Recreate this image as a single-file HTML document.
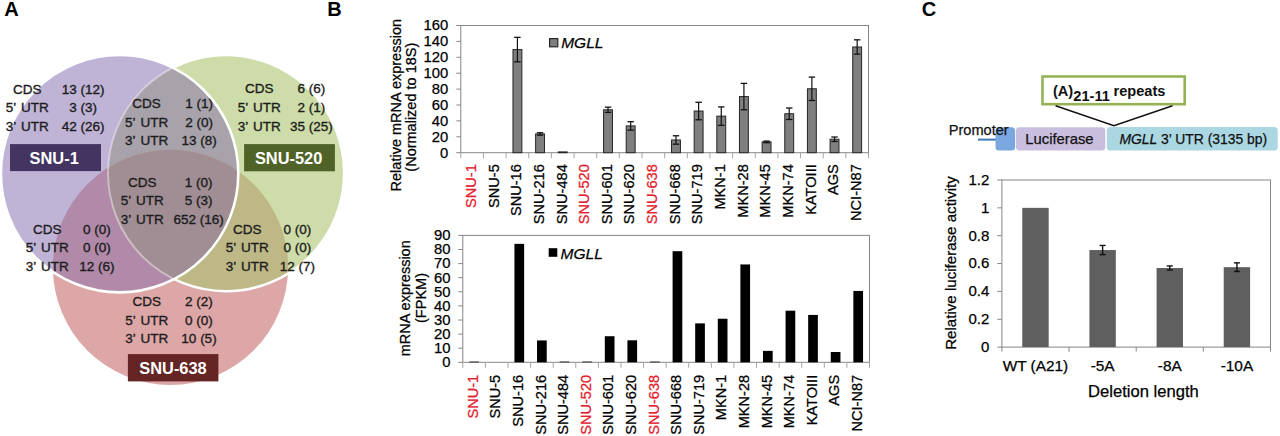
<!DOCTYPE html>
<html><head><meta charset="utf-8"><title>Figure</title>
<style>
html,body{margin:0;padding:0;background:#fff;}
body{width:1280px;height:436px;overflow:hidden;font-family:"Liberation Sans", sans-serif;}
svg{display:block;}
</style></head><body>
<svg width="1280" height="436" viewBox="0 0 1280 436">
<rect x="0" y="0" width="1280" height="436" fill="#fff"/>
<defs>
<clipPath id="cP"><circle cx="119.6" cy="173.7" r="118.7" /></clipPath>
<clipPath id="cG"><circle cx="226.1" cy="173.1" r="118.1" /></clipPath>
<clipPath id="cR"><circle cx="170.5" cy="267.3" r="117.6" /></clipPath>
</defs>
<circle cx="170.5" cy="267.3" r="117.6" fill="#dea7a7"/>
<circle cx="226.1" cy="173.1" r="118.1" fill="#cddca8"/>
<circle cx="119.6" cy="173.7" r="118.7" fill="#bfb3d6"/>
<g clip-path="url(#cP)"><circle cx="226.1" cy="173.1" r="118.1" fill="#a8a2aa"/></g>
<g clip-path="url(#cP)"><circle cx="170.5" cy="267.3" r="117.6" fill="#b08aa8"/></g>
<g clip-path="url(#cG)"><circle cx="170.5" cy="267.3" r="117.6" fill="#beb887"/></g>
<g clip-path="url(#cP)"><g clip-path="url(#cG)"><circle cx="170.5" cy="267.3" r="117.6" fill="#a08e94"/></g></g>
<g clip-path="url(#cP)"><circle cx="226.1" cy="173.1" r="118.1" fill="none" stroke="#ffffff" stroke-width="2" stroke-opacity="0.4"/></g>
<mask id="mNotP"><rect x="0" y="0" width="400" height="436" fill="white"/><circle cx="119.6" cy="173.7" r="118.7" fill="black"/></mask>
<g mask="url(#mNotP)"><circle cx="226.1" cy="173.1" r="118.1" fill="none" stroke="#ffffff" stroke-width="2.6"/></g>
<circle cx="119.6" cy="173.7" r="118.7" fill="none" stroke="#ffffff" stroke-width="2.6"/>
<g font-family='"Liberation Sans", sans-serif' font-size="13.5" fill="#1c1c1c" stroke="#1c1c1c" stroke-width="0.35">
<text x="27.3" y="93.6" text-anchor="middle">CDS</text>
<text x="83.1" y="93.6" text-anchor="middle">13 (12)</text>
<text x="27.3" y="112.3" text-anchor="middle" word-spacing="1.6">5’ UTR</text>
<text x="83.1" y="112.3" text-anchor="middle">3 (3)</text>
<text x="27.3" y="131.3" text-anchor="middle" word-spacing="1.6">3’ UTR</text>
<text x="83.1" y="131.3" text-anchor="middle">42 (26)</text>
<text x="146.6" y="108.2" text-anchor="middle">CDS</text>
<text x="199.1" y="108.2" text-anchor="middle">1 (1)</text>
<text x="146.6" y="126.5" text-anchor="middle" word-spacing="1.6">5’ UTR</text>
<text x="199.1" y="126.5" text-anchor="middle">2 (0)</text>
<text x="146.6" y="145.2" text-anchor="middle" word-spacing="1.6">3’ UTR</text>
<text x="199.1" y="145.2" text-anchor="middle">13 (8)</text>
<text x="259.3" y="93.2" text-anchor="middle">CDS</text>
<text x="311.4" y="93.2" text-anchor="middle">6 (6)</text>
<text x="259.3" y="112.3" text-anchor="middle" word-spacing="1.6">5’ UTR</text>
<text x="311.4" y="112.3" text-anchor="middle">2 (1)</text>
<text x="259.3" y="130.9" text-anchor="middle" word-spacing="1.6">3’ UTR</text>
<text x="311.4" y="130.9" text-anchor="middle">35 (25)</text>
<text x="142.3" y="186.5" text-anchor="middle">CDS</text>
<text x="198.6" y="186.5" text-anchor="middle">1 (0)</text>
<text x="142.3" y="205.1" text-anchor="middle" word-spacing="1.6">5’ UTR</text>
<text x="198.6" y="205.1" text-anchor="middle">5 (3)</text>
<text x="142.3" y="223.6" text-anchor="middle" word-spacing="1.6">3’ UTR</text>
<text x="198.6" y="223.6" text-anchor="middle">652 (16)</text>
<text x="47.3" y="234.1" text-anchor="middle">CDS</text>
<text x="96.8" y="234.1" text-anchor="middle">0 (0)</text>
<text x="47.3" y="252.3" text-anchor="middle" word-spacing="1.6">5’ UTR</text>
<text x="96.8" y="252.3" text-anchor="middle">0 (0)</text>
<text x="47.3" y="271.3" text-anchor="middle" word-spacing="1.6">3’ UTR</text>
<text x="96.8" y="271.3" text-anchor="middle">12 (6)</text>
<text x="247.2" y="234.1" text-anchor="middle">CDS</text>
<text x="297.3" y="234.1" text-anchor="middle">0 (0)</text>
<text x="247.2" y="252.3" text-anchor="middle" word-spacing="1.6">5’ UTR</text>
<text x="297.3" y="252.3" text-anchor="middle">0 (0)</text>
<text x="247.2" y="271.3" text-anchor="middle" word-spacing="1.6">3’ UTR</text>
<text x="297.3" y="271.3" text-anchor="middle">12 (7)</text>
<text x="146.8" y="305.6" text-anchor="middle">CDS</text>
<text x="199.0" y="305.6" text-anchor="middle">2 (2)</text>
<text x="146.8" y="324.5" text-anchor="middle" word-spacing="1.6">5’ UTR</text>
<text x="199.0" y="324.5" text-anchor="middle">0 (0)</text>
<text x="146.8" y="343.1" text-anchor="middle" word-spacing="1.6">3’ UTR</text>
<text x="199.0" y="343.1" text-anchor="middle">10 (5)</text>
</g>
<rect x="10" y="144.1" width="91" height="27" fill="#433461"/>
<text x="54.2" y="163.5" text-anchor="middle" font-family='"Liberation Sans", sans-serif' font-weight="bold" font-size="16.4" fill="#ffffff">SNU-1</text>
<rect x="244.1" y="144.1" width="90.8" height="27.2" fill="#4f6228"/>
<text x="288.6" y="163.5" text-anchor="middle" font-family='"Liberation Sans", sans-serif' font-weight="bold" font-size="16.4" fill="#ffffff">SNU-520</text>
<rect x="127.9" y="354.1" width="90.5" height="27.3" fill="#652525"/>
<text x="173.0" y="373.5" text-anchor="middle" font-family='"Liberation Sans", sans-serif' font-weight="bold" font-size="16.4" fill="#ffffff">SNU-638</text>
<g font-family='"Liberation Sans", sans-serif' font-weight="bold" font-size="20" fill="#000">
<text x="4.2" y="15.5">A</text>
<text x="327.2" y="15.5">B</text>
<text x="921.8" y="15.5">C</text>
</g>
<rect x="460.8" y="25.5" width="407.7" height="127.19999999999999" fill="none" stroke="#868686" stroke-width="1"/>
<line x1="456.3" y1="152.70" x2="460.8" y2="152.70" stroke="#868686" stroke-width="1"/>
<text x="448.2" y="157.50" text-anchor="end" font-family='"Liberation Sans", sans-serif' font-size="14.8" fill="#000" stroke="#000" stroke-width="0.25">0</text>
<line x1="456.3" y1="136.80" x2="460.8" y2="136.80" stroke="#868686" stroke-width="1"/>
<text x="448.2" y="141.60" text-anchor="end" font-family='"Liberation Sans", sans-serif' font-size="14.8" fill="#000" stroke="#000" stroke-width="0.25">20</text>
<line x1="456.3" y1="120.90" x2="460.8" y2="120.90" stroke="#868686" stroke-width="1"/>
<text x="448.2" y="125.70" text-anchor="end" font-family='"Liberation Sans", sans-serif' font-size="14.8" fill="#000" stroke="#000" stroke-width="0.25">40</text>
<line x1="456.3" y1="105.00" x2="460.8" y2="105.00" stroke="#868686" stroke-width="1"/>
<text x="448.2" y="109.80" text-anchor="end" font-family='"Liberation Sans", sans-serif' font-size="14.8" fill="#000" stroke="#000" stroke-width="0.25">60</text>
<line x1="456.3" y1="89.10" x2="460.8" y2="89.10" stroke="#868686" stroke-width="1"/>
<text x="448.2" y="93.90" text-anchor="end" font-family='"Liberation Sans", sans-serif' font-size="14.8" fill="#000" stroke="#000" stroke-width="0.25">80</text>
<line x1="456.3" y1="73.20" x2="460.8" y2="73.20" stroke="#868686" stroke-width="1"/>
<text x="448.2" y="78.00" text-anchor="end" font-family='"Liberation Sans", sans-serif' font-size="14.8" fill="#000" stroke="#000" stroke-width="0.25">100</text>
<line x1="456.3" y1="57.30" x2="460.8" y2="57.30" stroke="#868686" stroke-width="1"/>
<text x="448.2" y="62.10" text-anchor="end" font-family='"Liberation Sans", sans-serif' font-size="14.8" fill="#000" stroke="#000" stroke-width="0.25">120</text>
<line x1="456.3" y1="41.40" x2="460.8" y2="41.40" stroke="#868686" stroke-width="1"/>
<text x="448.2" y="46.20" text-anchor="end" font-family='"Liberation Sans", sans-serif' font-size="14.8" fill="#000" stroke="#000" stroke-width="0.25">140</text>
<line x1="456.3" y1="25.50" x2="460.8" y2="25.50" stroke="#868686" stroke-width="1"/>
<text x="448.2" y="30.30" text-anchor="end" font-family='"Liberation Sans", sans-serif' font-size="14.8" fill="#000" stroke="#000" stroke-width="0.25">160</text>
<line x1="460.80" y1="152.7" x2="460.80" y2="158.2" stroke="#a6a6a6" stroke-width="1"/>
<line x1="483.45" y1="152.7" x2="483.45" y2="158.2" stroke="#a6a6a6" stroke-width="1"/>
<line x1="506.10" y1="152.7" x2="506.10" y2="158.2" stroke="#a6a6a6" stroke-width="1"/>
<line x1="528.75" y1="152.7" x2="528.75" y2="158.2" stroke="#a6a6a6" stroke-width="1"/>
<line x1="551.40" y1="152.7" x2="551.40" y2="158.2" stroke="#a6a6a6" stroke-width="1"/>
<line x1="574.05" y1="152.7" x2="574.05" y2="158.2" stroke="#a6a6a6" stroke-width="1"/>
<line x1="596.70" y1="152.7" x2="596.70" y2="158.2" stroke="#a6a6a6" stroke-width="1"/>
<line x1="619.35" y1="152.7" x2="619.35" y2="158.2" stroke="#a6a6a6" stroke-width="1"/>
<line x1="642.00" y1="152.7" x2="642.00" y2="158.2" stroke="#a6a6a6" stroke-width="1"/>
<line x1="664.65" y1="152.7" x2="664.65" y2="158.2" stroke="#a6a6a6" stroke-width="1"/>
<line x1="687.30" y1="152.7" x2="687.30" y2="158.2" stroke="#a6a6a6" stroke-width="1"/>
<line x1="709.95" y1="152.7" x2="709.95" y2="158.2" stroke="#a6a6a6" stroke-width="1"/>
<line x1="732.60" y1="152.7" x2="732.60" y2="158.2" stroke="#a6a6a6" stroke-width="1"/>
<line x1="755.25" y1="152.7" x2="755.25" y2="158.2" stroke="#a6a6a6" stroke-width="1"/>
<line x1="777.90" y1="152.7" x2="777.90" y2="158.2" stroke="#a6a6a6" stroke-width="1"/>
<line x1="800.55" y1="152.7" x2="800.55" y2="158.2" stroke="#a6a6a6" stroke-width="1"/>
<line x1="823.20" y1="152.7" x2="823.20" y2="158.2" stroke="#a6a6a6" stroke-width="1"/>
<line x1="845.85" y1="152.7" x2="845.85" y2="158.2" stroke="#a6a6a6" stroke-width="1"/>
<line x1="868.50" y1="152.7" x2="868.50" y2="158.2" stroke="#a6a6a6" stroke-width="1"/>
<text transform="translate(475.93,164.2) rotate(-90)" text-anchor="end" font-family='"Liberation Sans", sans-serif' font-size="14.6" fill="#e3202b" stroke="#e3202b" stroke-width="0.25">SNU-1</text>
<text transform="translate(498.57,164.2) rotate(-90)" text-anchor="end" font-family='"Liberation Sans", sans-serif' font-size="14.6" fill="#000" stroke="#000" stroke-width="0.25">SNU-5</text>
<rect x="512.97" y="49.59" width="8.9" height="103.11" fill="#7f7f7f" stroke="#262626" stroke-width="1.0"/>
<line x1="517.42" y1="37.35" x2="517.42" y2="61.83" stroke="#111" stroke-width="1.2"/>
<line x1="514.22" y1="37.35" x2="520.62" y2="37.35" stroke="#111" stroke-width="1.3"/>
<line x1="514.22" y1="61.83" x2="520.62" y2="61.83" stroke="#111" stroke-width="1.3"/>
<text transform="translate(521.22,164.2) rotate(-90)" text-anchor="end" font-family='"Liberation Sans", sans-serif' font-size="14.6" fill="#000" stroke="#000" stroke-width="0.25">SNU-16</text>
<rect x="535.62" y="133.94" width="8.9" height="18.76" fill="#7f7f7f" stroke="#262626" stroke-width="1.0"/>
<line x1="540.08" y1="132.75" x2="540.08" y2="135.13" stroke="#111" stroke-width="1.2"/>
<line x1="536.88" y1="132.75" x2="543.28" y2="132.75" stroke="#111" stroke-width="1.3"/>
<line x1="536.88" y1="135.13" x2="543.28" y2="135.13" stroke="#111" stroke-width="1.3"/>
<text transform="translate(543.88,164.2) rotate(-90)" text-anchor="end" font-family='"Liberation Sans", sans-serif' font-size="14.6" fill="#000" stroke="#000" stroke-width="0.25">SNU-216</text>
<rect x="558.27" y="151.91" width="8.9" height="0.79" fill="#7f7f7f" stroke="#262626" stroke-width="1.0"/>
<text transform="translate(566.52,164.2) rotate(-90)" text-anchor="end" font-family='"Liberation Sans", sans-serif' font-size="14.6" fill="#000" stroke="#000" stroke-width="0.25">SNU-484</text>
<text transform="translate(589.17,164.2) rotate(-90)" text-anchor="end" font-family='"Liberation Sans", sans-serif' font-size="14.6" fill="#e3202b" stroke="#e3202b" stroke-width="0.25">SNU-520</text>
<rect x="603.57" y="109.77" width="8.9" height="42.93" fill="#7f7f7f" stroke="#262626" stroke-width="1.0"/>
<line x1="608.02" y1="107.15" x2="608.02" y2="112.39" stroke="#111" stroke-width="1.2"/>
<line x1="604.82" y1="107.15" x2="611.23" y2="107.15" stroke="#111" stroke-width="1.3"/>
<line x1="604.82" y1="112.39" x2="611.23" y2="112.39" stroke="#111" stroke-width="1.3"/>
<text transform="translate(611.82,164.2) rotate(-90)" text-anchor="end" font-family='"Liberation Sans", sans-serif' font-size="14.6" fill="#000" stroke="#000" stroke-width="0.25">SNU-601</text>
<rect x="626.22" y="125.91" width="8.9" height="26.79" fill="#7f7f7f" stroke="#262626" stroke-width="1.0"/>
<line x1="630.67" y1="121.69" x2="630.67" y2="130.12" stroke="#111" stroke-width="1.2"/>
<line x1="627.47" y1="121.69" x2="633.88" y2="121.69" stroke="#111" stroke-width="1.3"/>
<line x1="627.47" y1="130.12" x2="633.88" y2="130.12" stroke="#111" stroke-width="1.3"/>
<text transform="translate(634.47,164.2) rotate(-90)" text-anchor="end" font-family='"Liberation Sans", sans-serif' font-size="14.6" fill="#000" stroke="#000" stroke-width="0.25">SNU-620</text>
<text transform="translate(657.12,164.2) rotate(-90)" text-anchor="end" font-family='"Liberation Sans", sans-serif' font-size="14.6" fill="#e3202b" stroke="#e3202b" stroke-width="0.25">SNU-638</text>
<rect x="671.52" y="139.98" width="8.9" height="12.72" fill="#7f7f7f" stroke="#262626" stroke-width="1.0"/>
<line x1="675.98" y1="135.77" x2="675.98" y2="144.19" stroke="#111" stroke-width="1.2"/>
<line x1="672.77" y1="135.77" x2="679.18" y2="135.77" stroke="#111" stroke-width="1.3"/>
<line x1="672.77" y1="144.19" x2="679.18" y2="144.19" stroke="#111" stroke-width="1.3"/>
<text transform="translate(679.77,164.2) rotate(-90)" text-anchor="end" font-family='"Liberation Sans", sans-serif' font-size="14.6" fill="#000" stroke="#000" stroke-width="0.25">SNU-668</text>
<rect x="694.17" y="111.04" width="8.9" height="41.66" fill="#7f7f7f" stroke="#262626" stroke-width="1.0"/>
<line x1="698.62" y1="102.30" x2="698.62" y2="119.79" stroke="#111" stroke-width="1.2"/>
<line x1="695.42" y1="102.30" x2="701.83" y2="102.30" stroke="#111" stroke-width="1.3"/>
<line x1="695.42" y1="119.79" x2="701.83" y2="119.79" stroke="#111" stroke-width="1.3"/>
<text transform="translate(702.42,164.2) rotate(-90)" text-anchor="end" font-family='"Liberation Sans", sans-serif' font-size="14.6" fill="#000" stroke="#000" stroke-width="0.25">SNU-719</text>
<rect x="716.82" y="116.13" width="8.9" height="36.57" fill="#7f7f7f" stroke="#262626" stroke-width="1.0"/>
<line x1="721.27" y1="106.91" x2="721.27" y2="125.35" stroke="#111" stroke-width="1.2"/>
<line x1="718.07" y1="106.91" x2="724.48" y2="106.91" stroke="#111" stroke-width="1.3"/>
<line x1="718.07" y1="125.35" x2="724.48" y2="125.35" stroke="#111" stroke-width="1.3"/>
<text transform="translate(725.07,164.2) rotate(-90)" text-anchor="end" font-family='"Liberation Sans", sans-serif' font-size="14.6" fill="#000" stroke="#000" stroke-width="0.25">MKN-1</text>
<rect x="739.47" y="96.57" width="8.9" height="56.13" fill="#7f7f7f" stroke="#262626" stroke-width="1.0"/>
<line x1="743.92" y1="83.38" x2="743.92" y2="109.77" stroke="#111" stroke-width="1.2"/>
<line x1="740.72" y1="83.38" x2="747.12" y2="83.38" stroke="#111" stroke-width="1.3"/>
<line x1="740.72" y1="109.77" x2="747.12" y2="109.77" stroke="#111" stroke-width="1.3"/>
<text transform="translate(747.72,164.2) rotate(-90)" text-anchor="end" font-family='"Liberation Sans", sans-serif' font-size="14.6" fill="#000" stroke="#000" stroke-width="0.25">MKN-28</text>
<rect x="762.12" y="141.89" width="8.9" height="10.81" fill="#7f7f7f" stroke="#262626" stroke-width="1.0"/>
<line x1="766.58" y1="141.09" x2="766.58" y2="142.68" stroke="#111" stroke-width="1.2"/>
<line x1="763.38" y1="141.09" x2="769.78" y2="141.09" stroke="#111" stroke-width="1.3"/>
<line x1="763.38" y1="142.68" x2="769.78" y2="142.68" stroke="#111" stroke-width="1.3"/>
<text transform="translate(770.38,164.2) rotate(-90)" text-anchor="end" font-family='"Liberation Sans", sans-serif' font-size="14.6" fill="#000" stroke="#000" stroke-width="0.25">MKN-45</text>
<rect x="784.77" y="113.74" width="8.9" height="38.95" fill="#7f7f7f" stroke="#262626" stroke-width="1.0"/>
<line x1="789.22" y1="108.02" x2="789.22" y2="119.47" stroke="#111" stroke-width="1.2"/>
<line x1="786.02" y1="108.02" x2="792.42" y2="108.02" stroke="#111" stroke-width="1.3"/>
<line x1="786.02" y1="119.47" x2="792.42" y2="119.47" stroke="#111" stroke-width="1.3"/>
<text transform="translate(793.02,164.2) rotate(-90)" text-anchor="end" font-family='"Liberation Sans", sans-serif' font-size="14.6" fill="#000" stroke="#000" stroke-width="0.25">MKN-74</text>
<rect x="807.42" y="88.78" width="8.9" height="63.92" fill="#7f7f7f" stroke="#262626" stroke-width="1.0"/>
<line x1="811.88" y1="77.10" x2="811.88" y2="100.47" stroke="#111" stroke-width="1.2"/>
<line x1="808.67" y1="77.10" x2="815.08" y2="77.10" stroke="#111" stroke-width="1.3"/>
<line x1="808.67" y1="100.47" x2="815.08" y2="100.47" stroke="#111" stroke-width="1.3"/>
<text transform="translate(815.67,164.2) rotate(-90)" text-anchor="end" font-family='"Liberation Sans", sans-serif' font-size="14.6" fill="#000" stroke="#000" stroke-width="0.25">KATOIII</text>
<rect x="830.07" y="139.26" width="8.9" height="13.44" fill="#7f7f7f" stroke="#262626" stroke-width="1.0"/>
<line x1="834.52" y1="137.04" x2="834.52" y2="141.49" stroke="#111" stroke-width="1.2"/>
<line x1="831.32" y1="137.04" x2="837.73" y2="137.04" stroke="#111" stroke-width="1.3"/>
<line x1="831.32" y1="141.49" x2="837.73" y2="141.49" stroke="#111" stroke-width="1.3"/>
<text transform="translate(838.32,164.2) rotate(-90)" text-anchor="end" font-family='"Liberation Sans", sans-serif' font-size="14.6" fill="#000" stroke="#000" stroke-width="0.25">AGS</text>
<rect x="852.72" y="46.97" width="8.9" height="105.73" fill="#7f7f7f" stroke="#262626" stroke-width="1.0"/>
<line x1="857.17" y1="39.81" x2="857.17" y2="54.12" stroke="#111" stroke-width="1.2"/>
<line x1="853.97" y1="39.81" x2="860.38" y2="39.81" stroke="#111" stroke-width="1.3"/>
<line x1="853.97" y1="54.12" x2="860.38" y2="54.12" stroke="#111" stroke-width="1.3"/>
<text transform="translate(860.97,164.2) rotate(-90)" text-anchor="end" font-family='"Liberation Sans", sans-serif' font-size="14.6" fill="#000" stroke="#000" stroke-width="0.25">NCI-N87</text>
<rect x="549.6" y="38.6" width="8.2" height="8.2" fill="#7f7f7f" stroke="#262626" stroke-width="1.2"/>
<text x="561.2" y="47.9" font-family='"Liberation Sans", sans-serif' font-style="italic" font-size="15.5" fill="#000" stroke="#000" stroke-width="0.25">MGLL</text>
<rect x="462.8" y="235.4" width="406.7" height="126.9" fill="none" stroke="#868686" stroke-width="1"/>
<line x1="458.3" y1="362.30" x2="462.8" y2="362.30" stroke="#868686" stroke-width="1"/>
<text x="450.4" y="367.10" text-anchor="end" font-family='"Liberation Sans", sans-serif' font-size="14.8" fill="#000" stroke="#000" stroke-width="0.25">0</text>
<line x1="458.3" y1="348.20" x2="462.8" y2="348.20" stroke="#868686" stroke-width="1"/>
<text x="450.4" y="353.00" text-anchor="end" font-family='"Liberation Sans", sans-serif' font-size="14.8" fill="#000" stroke="#000" stroke-width="0.25">10</text>
<line x1="458.3" y1="334.10" x2="462.8" y2="334.10" stroke="#868686" stroke-width="1"/>
<text x="450.4" y="338.90" text-anchor="end" font-family='"Liberation Sans", sans-serif' font-size="14.8" fill="#000" stroke="#000" stroke-width="0.25">20</text>
<line x1="458.3" y1="320.00" x2="462.8" y2="320.00" stroke="#868686" stroke-width="1"/>
<text x="450.4" y="324.80" text-anchor="end" font-family='"Liberation Sans", sans-serif' font-size="14.8" fill="#000" stroke="#000" stroke-width="0.25">30</text>
<line x1="458.3" y1="305.90" x2="462.8" y2="305.90" stroke="#868686" stroke-width="1"/>
<text x="450.4" y="310.70" text-anchor="end" font-family='"Liberation Sans", sans-serif' font-size="14.8" fill="#000" stroke="#000" stroke-width="0.25">40</text>
<line x1="458.3" y1="291.80" x2="462.8" y2="291.80" stroke="#868686" stroke-width="1"/>
<text x="450.4" y="296.60" text-anchor="end" font-family='"Liberation Sans", sans-serif' font-size="14.8" fill="#000" stroke="#000" stroke-width="0.25">50</text>
<line x1="458.3" y1="277.70" x2="462.8" y2="277.70" stroke="#868686" stroke-width="1"/>
<text x="450.4" y="282.50" text-anchor="end" font-family='"Liberation Sans", sans-serif' font-size="14.8" fill="#000" stroke="#000" stroke-width="0.25">60</text>
<line x1="458.3" y1="263.60" x2="462.8" y2="263.60" stroke="#868686" stroke-width="1"/>
<text x="450.4" y="268.40" text-anchor="end" font-family='"Liberation Sans", sans-serif' font-size="14.8" fill="#000" stroke="#000" stroke-width="0.25">70</text>
<line x1="458.3" y1="249.50" x2="462.8" y2="249.50" stroke="#868686" stroke-width="1"/>
<text x="450.4" y="254.30" text-anchor="end" font-family='"Liberation Sans", sans-serif' font-size="14.8" fill="#000" stroke="#000" stroke-width="0.25">80</text>
<line x1="458.3" y1="235.40" x2="462.8" y2="235.40" stroke="#868686" stroke-width="1"/>
<text x="450.4" y="240.20" text-anchor="end" font-family='"Liberation Sans", sans-serif' font-size="14.8" fill="#000" stroke="#000" stroke-width="0.25">90</text>
<line x1="462.80" y1="362.3" x2="462.80" y2="367.8" stroke="#a6a6a6" stroke-width="1"/>
<line x1="485.39" y1="362.3" x2="485.39" y2="367.8" stroke="#a6a6a6" stroke-width="1"/>
<line x1="507.99" y1="362.3" x2="507.99" y2="367.8" stroke="#a6a6a6" stroke-width="1"/>
<line x1="530.58" y1="362.3" x2="530.58" y2="367.8" stroke="#a6a6a6" stroke-width="1"/>
<line x1="553.18" y1="362.3" x2="553.18" y2="367.8" stroke="#a6a6a6" stroke-width="1"/>
<line x1="575.77" y1="362.3" x2="575.77" y2="367.8" stroke="#a6a6a6" stroke-width="1"/>
<line x1="598.37" y1="362.3" x2="598.37" y2="367.8" stroke="#a6a6a6" stroke-width="1"/>
<line x1="620.96" y1="362.3" x2="620.96" y2="367.8" stroke="#a6a6a6" stroke-width="1"/>
<line x1="643.56" y1="362.3" x2="643.56" y2="367.8" stroke="#a6a6a6" stroke-width="1"/>
<line x1="666.15" y1="362.3" x2="666.15" y2="367.8" stroke="#a6a6a6" stroke-width="1"/>
<line x1="688.74" y1="362.3" x2="688.74" y2="367.8" stroke="#a6a6a6" stroke-width="1"/>
<line x1="711.34" y1="362.3" x2="711.34" y2="367.8" stroke="#a6a6a6" stroke-width="1"/>
<line x1="733.93" y1="362.3" x2="733.93" y2="367.8" stroke="#a6a6a6" stroke-width="1"/>
<line x1="756.53" y1="362.3" x2="756.53" y2="367.8" stroke="#a6a6a6" stroke-width="1"/>
<line x1="779.12" y1="362.3" x2="779.12" y2="367.8" stroke="#a6a6a6" stroke-width="1"/>
<line x1="801.72" y1="362.3" x2="801.72" y2="367.8" stroke="#a6a6a6" stroke-width="1"/>
<line x1="824.31" y1="362.3" x2="824.31" y2="367.8" stroke="#a6a6a6" stroke-width="1"/>
<line x1="846.91" y1="362.3" x2="846.91" y2="367.8" stroke="#a6a6a6" stroke-width="1"/>
<line x1="869.50" y1="362.3" x2="869.50" y2="367.8" stroke="#a6a6a6" stroke-width="1"/>
<rect x="469.25" y="361.60" width="9.7" height="0.71" fill="#000"/>
<text transform="translate(477.90,374.8) rotate(-90)" text-anchor="end" font-family='"Liberation Sans", sans-serif' font-size="14.6" fill="#e3202b" stroke="#e3202b" stroke-width="0.25">SNU-1</text>
<text transform="translate(500.49,374.8) rotate(-90)" text-anchor="end" font-family='"Liberation Sans", sans-serif' font-size="14.6" fill="#000" stroke="#000" stroke-width="0.25">SNU-5</text>
<rect x="514.44" y="243.86" width="9.7" height="118.44" fill="#000"/>
<text transform="translate(523.09,374.8) rotate(-90)" text-anchor="end" font-family='"Liberation Sans", sans-serif' font-size="14.6" fill="#000" stroke="#000" stroke-width="0.25">SNU-16</text>
<rect x="537.03" y="340.44" width="9.7" height="21.86" fill="#000"/>
<text transform="translate(545.68,374.8) rotate(-90)" text-anchor="end" font-family='"Liberation Sans", sans-serif' font-size="14.6" fill="#000" stroke="#000" stroke-width="0.25">SNU-216</text>
<rect x="559.62" y="361.60" width="9.7" height="0.71" fill="#000"/>
<text transform="translate(568.27,374.8) rotate(-90)" text-anchor="end" font-family='"Liberation Sans", sans-serif' font-size="14.6" fill="#000" stroke="#000" stroke-width="0.25">SNU-484</text>
<rect x="582.22" y="361.60" width="9.7" height="0.71" fill="#000"/>
<text transform="translate(590.87,374.8) rotate(-90)" text-anchor="end" font-family='"Liberation Sans", sans-serif' font-size="14.6" fill="#e3202b" stroke="#e3202b" stroke-width="0.25">SNU-520</text>
<rect x="604.81" y="336.22" width="9.7" height="26.09" fill="#000"/>
<text transform="translate(613.46,374.8) rotate(-90)" text-anchor="end" font-family='"Liberation Sans", sans-serif' font-size="14.6" fill="#000" stroke="#000" stroke-width="0.25">SNU-601</text>
<rect x="627.41" y="340.30" width="9.7" height="22.00" fill="#000"/>
<text transform="translate(636.06,374.8) rotate(-90)" text-anchor="end" font-family='"Liberation Sans", sans-serif' font-size="14.6" fill="#000" stroke="#000" stroke-width="0.25">SNU-620</text>
<rect x="650.00" y="361.60" width="9.7" height="0.71" fill="#000"/>
<text transform="translate(658.65,374.8) rotate(-90)" text-anchor="end" font-family='"Liberation Sans", sans-serif' font-size="14.6" fill="#e3202b" stroke="#e3202b" stroke-width="0.25">SNU-638</text>
<rect x="672.60" y="251.19" width="9.7" height="111.11" fill="#000"/>
<text transform="translate(681.25,374.8) rotate(-90)" text-anchor="end" font-family='"Liberation Sans", sans-serif' font-size="14.6" fill="#000" stroke="#000" stroke-width="0.25">SNU-668</text>
<rect x="695.19" y="323.38" width="9.7" height="38.92" fill="#000"/>
<text transform="translate(703.84,374.8) rotate(-90)" text-anchor="end" font-family='"Liberation Sans", sans-serif' font-size="14.6" fill="#000" stroke="#000" stroke-width="0.25">SNU-719</text>
<rect x="717.79" y="318.73" width="9.7" height="43.57" fill="#000"/>
<text transform="translate(726.44,374.8) rotate(-90)" text-anchor="end" font-family='"Liberation Sans", sans-serif' font-size="14.6" fill="#000" stroke="#000" stroke-width="0.25">MKN-1</text>
<rect x="740.38" y="264.45" width="9.7" height="97.85" fill="#000"/>
<text transform="translate(749.03,374.8) rotate(-90)" text-anchor="end" font-family='"Liberation Sans", sans-serif' font-size="14.6" fill="#000" stroke="#000" stroke-width="0.25">MKN-28</text>
<rect x="762.98" y="350.88" width="9.7" height="11.42" fill="#000"/>
<text transform="translate(771.62,374.8) rotate(-90)" text-anchor="end" font-family='"Liberation Sans", sans-serif' font-size="14.6" fill="#000" stroke="#000" stroke-width="0.25">MKN-45</text>
<rect x="785.57" y="310.69" width="9.7" height="51.61" fill="#000"/>
<text transform="translate(794.22,374.8) rotate(-90)" text-anchor="end" font-family='"Liberation Sans", sans-serif' font-size="14.6" fill="#000" stroke="#000" stroke-width="0.25">MKN-74</text>
<rect x="808.16" y="314.92" width="9.7" height="47.38" fill="#000"/>
<text transform="translate(816.81,374.8) rotate(-90)" text-anchor="end" font-family='"Liberation Sans", sans-serif' font-size="14.6" fill="#000" stroke="#000" stroke-width="0.25">KATOIII</text>
<rect x="830.76" y="352.01" width="9.7" height="10.29" fill="#000"/>
<text transform="translate(839.41,374.8) rotate(-90)" text-anchor="end" font-family='"Liberation Sans", sans-serif' font-size="14.6" fill="#000" stroke="#000" stroke-width="0.25">AGS</text>
<rect x="853.35" y="290.95" width="9.7" height="71.35" fill="#000"/>
<text transform="translate(862.00,374.8) rotate(-90)" text-anchor="end" font-family='"Liberation Sans", sans-serif' font-size="14.6" fill="#000" stroke="#000" stroke-width="0.25">NCI-N87</text>
<rect x="548.7" y="248.2" width="8.6" height="8.6" fill="#000"/>
<text x="560.6" y="258.7" font-family='"Liberation Sans", sans-serif' font-style="italic" font-size="15.5" fill="#000" stroke="#000" stroke-width="0.25">MGLL</text>
<g font-family='"Liberation Sans", sans-serif' font-size="14.5" fill="#000" stroke="#000" stroke-width="0.25">
<text transform="translate(401,105.2) rotate(-90)" text-anchor="middle">Relative mRNA expression</text>
<text transform="translate(416.3,107.2) rotate(-90)" text-anchor="middle">(Normalized to 18S)</text>
<text transform="translate(409.7,298.3) rotate(-90)" text-anchor="middle">mRNA expression</text>
<text transform="translate(426,298) rotate(-90)" text-anchor="middle">(FPKM)</text>
</g>
<rect x="1042.5" y="76.5" width="142.2" height="27.7" fill="#fff" stroke="#94b356" stroke-width="2.6"/>
<g font-family='"Liberation Sans", sans-serif' font-weight="bold" font-size="14.6" fill="#111">
<text x="1052.9" y="96.1">(A)</text>
<text x="1073.3" y="101.0">21-11</text>
<text x="1113.5" y="96.1">repeats</text>
</g>
<polyline points="1055.6,105.8 1113.9,125.6 1172.5,105.8" fill="none" stroke="#111" stroke-width="1.5"/>
<line x1="978" y1="139.6" x2="996" y2="139.6" stroke="#3f7ab8" stroke-width="2"/>
<rect x="995.5" y="127.2" width="19.6" height="23.4" rx="3.5" fill="#7aa7e0"/>
<rect x="1015.9" y="127.2" width="89.4" height="23.4" rx="3.5" fill="#c9bedd"/>
<rect x="1106.8" y="127.0" width="170.9" height="23.6" rx="3.5" fill="#aad7e1"/>
<g font-family='"Liberation Sans", sans-serif' fill="#111" stroke="#111" stroke-width="0.25">
<text x="948.7" y="135" font-size="14.6">Promoter</text>
<text x="1025.3" y="144.1" font-size="14.8">Luciferase</text>
<text x="1119.4" y="143.7" font-size="13.9"><tspan font-style="italic">MGLL</tspan> 3’ UTR (3135 bp)</text>
</g>
<rect x="1001.9" y="180.0" width="268.6" height="167.10000000000002" fill="none" stroke="#868686" stroke-width="1"/>
<line x1="997.3" y1="347.10" x2="1001.9" y2="347.10" stroke="#868686" stroke-width="1"/>
<text x="989.3" y="351.90" text-anchor="end" font-family='"Liberation Sans", sans-serif' font-size="15" fill="#000" stroke="#000" stroke-width="0.25">0</text>
<line x1="997.3" y1="319.25" x2="1001.9" y2="319.25" stroke="#868686" stroke-width="1"/>
<text x="989.3" y="324.05" text-anchor="end" font-family='"Liberation Sans", sans-serif' font-size="15" fill="#000" stroke="#000" stroke-width="0.25">0.2</text>
<line x1="997.3" y1="291.40" x2="1001.9" y2="291.40" stroke="#868686" stroke-width="1"/>
<text x="989.3" y="296.20" text-anchor="end" font-family='"Liberation Sans", sans-serif' font-size="15" fill="#000" stroke="#000" stroke-width="0.25">0.4</text>
<line x1="997.3" y1="263.55" x2="1001.9" y2="263.55" stroke="#868686" stroke-width="1"/>
<text x="989.3" y="268.35" text-anchor="end" font-family='"Liberation Sans", sans-serif' font-size="15" fill="#000" stroke="#000" stroke-width="0.25">0.6</text>
<line x1="997.3" y1="235.70" x2="1001.9" y2="235.70" stroke="#868686" stroke-width="1"/>
<text x="989.3" y="240.50" text-anchor="end" font-family='"Liberation Sans", sans-serif' font-size="15" fill="#000" stroke="#000" stroke-width="0.25">0.8</text>
<line x1="997.3" y1="207.85" x2="1001.9" y2="207.85" stroke="#868686" stroke-width="1"/>
<text x="989.3" y="212.65" text-anchor="end" font-family='"Liberation Sans", sans-serif' font-size="15" fill="#000" stroke="#000" stroke-width="0.25">1</text>
<line x1="997.3" y1="180.00" x2="1001.9" y2="180.00" stroke="#868686" stroke-width="1"/>
<text x="989.3" y="184.80" text-anchor="end" font-family='"Liberation Sans", sans-serif' font-size="15" fill="#000" stroke="#000" stroke-width="0.25">1.2</text>
<line x1="1001.90" y1="347.1" x2="1001.90" y2="351.6" stroke="#868686" stroke-width="1"/>
<line x1="1069.05" y1="347.1" x2="1069.05" y2="351.6" stroke="#868686" stroke-width="1"/>
<line x1="1136.20" y1="347.1" x2="1136.20" y2="351.6" stroke="#868686" stroke-width="1"/>
<line x1="1203.35" y1="347.1" x2="1203.35" y2="351.6" stroke="#868686" stroke-width="1"/>
<line x1="1270.50" y1="347.1" x2="1270.50" y2="351.6" stroke="#868686" stroke-width="1"/>
<rect x="1022.27" y="207.85" width="26.4" height="139.25" fill="#5f5f5f"/>
<text x="1035.47" y="370.6" text-anchor="middle" font-family='"Liberation Sans", sans-serif' font-size="15.4" fill="#000" stroke="#000" stroke-width="0.25">WT (A21)</text>
<rect x="1089.42" y="250.04" width="26.4" height="97.06" fill="#5f5f5f"/>
<line x1="1102.62" y1="245.45" x2="1102.62" y2="254.64" stroke="#111" stroke-width="1.4"/>
<line x1="1099.62" y1="245.45" x2="1105.62" y2="245.45" stroke="#111" stroke-width="1.4"/>
<line x1="1099.62" y1="254.64" x2="1105.62" y2="254.64" stroke="#111" stroke-width="1.4"/>
<text x="1102.62" y="370.6" text-anchor="middle" font-family='"Liberation Sans", sans-serif' font-size="15.4" fill="#000" stroke="#000" stroke-width="0.25">-5A</text>
<rect x="1156.58" y="268.01" width="26.4" height="79.09" fill="#5f5f5f"/>
<line x1="1169.78" y1="265.92" x2="1169.78" y2="270.09" stroke="#111" stroke-width="1.4"/>
<line x1="1166.78" y1="265.92" x2="1172.78" y2="265.92" stroke="#111" stroke-width="1.4"/>
<line x1="1166.78" y1="270.09" x2="1172.78" y2="270.09" stroke="#111" stroke-width="1.4"/>
<text x="1169.78" y="370.6" text-anchor="middle" font-family='"Liberation Sans", sans-serif' font-size="15.4" fill="#000" stroke="#000" stroke-width="0.25">-8A</text>
<rect x="1223.72" y="267.17" width="26.4" height="79.93" fill="#5f5f5f"/>
<line x1="1236.92" y1="262.85" x2="1236.92" y2="271.49" stroke="#111" stroke-width="1.4"/>
<line x1="1233.92" y1="262.85" x2="1239.92" y2="262.85" stroke="#111" stroke-width="1.4"/>
<line x1="1233.92" y1="271.49" x2="1239.92" y2="271.49" stroke="#111" stroke-width="1.4"/>
<text x="1236.92" y="370.6" text-anchor="middle" font-family='"Liberation Sans", sans-serif' font-size="15.4" fill="#000" stroke="#000" stroke-width="0.25">-10A</text>
<text x="1143.4" y="397" text-anchor="middle" font-family='"Liberation Sans", sans-serif' font-size="16.6" fill="#000" stroke="#000" stroke-width="0.25">Deletion length</text>
<text transform="translate(955.6,263) rotate(-90)" text-anchor="middle" font-family='"Liberation Sans", sans-serif' font-size="15.1" fill="#000" stroke="#000" stroke-width="0.25">Relative luciferase activity</text>
</svg>
</body></html>
